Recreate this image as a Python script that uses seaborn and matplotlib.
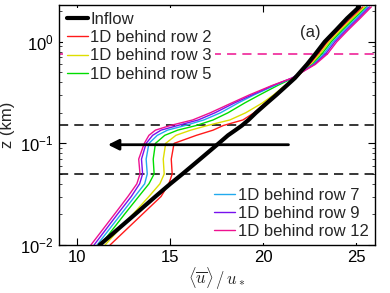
import numpy as np
import pandas as pd
import matplotlib
matplotlib.use('Agg')
import matplotlib.pyplot as plt
import seaborn as sns

# heights (km) shared by all profiles
z_km = [0.01, 0.02, 0.03, 0.04, 0.05, 0.07, 0.1, 0.12, 0.135, 0.15, 0.17,
        0.2, 0.25, 0.3, 0.37, 0.44, 0.6, 0.76, 1.0, 1.3, 1.7, 2.2]

inflow = [11.2, 13.1, 14.2, 15.0, 15.65, 16.6, 17.6, 18.1, 18.5, 18.85, 19.2,
          19.6, 20.2, 20.7, 21.25, 21.7, 22.35, 22.8, 23.3, 23.9, 24.5, 25.15]
row2 = [11.76, 13.49, 14.5, 14.92, 15.1, 15.05, 15.2, 16.4, 17.3, 17.85, 18.9,
        19.5, 20.1, 20.6, 21.2, 21.75, 22.5, 22.95, 23.45, 24.05, 24.7, 25.35]
row3 = [11.49, 12.98, 13.85, 14.44, 14.67, 14.62, 14.75, 15.3, 16.1, 17.0, 18.2,
        19.05, 19.95, 20.55, 21.15, 21.7, 22.6, 23.05, 23.55, 24.15, 24.8, 25.45]
row5 = [11.25, 12.53, 13.3, 13.85, 14.13, 14.08, 14.2, 14.7, 15.4, 16.4, 17.3,
        18.1, 19.0, 19.8, 20.75, 21.6, 22.65, 23.15, 23.65, 24.25, 24.9, 25.55]
row7 = [11.06, 12.34, 13.09, 13.62, 13.76, 13.7, 13.85, 14.3, 14.85, 15.8, 16.8,
        17.7, 18.65, 19.5, 20.6, 21.55, 22.7, 23.25, 23.75, 24.35, 25.0, 25.6]
row9 = [10.9, 12.15, 12.9, 13.35, 13.51, 13.45, 13.7, 14.05, 14.5, 15.4, 16.5,
        17.4, 18.45, 19.4, 20.5, 21.55, 22.75, 23.35, 23.85, 24.45, 25.1, 25.7]
row12 = [10.73, 11.99, 12.72, 13.2, 13.37, 13.3, 13.6, 13.85, 14.2, 15.0, 16.2,
         17.15, 18.3, 19.25, 20.45, 21.55, 22.8, 23.45, 23.95, 24.55, 25.2, 25.8]

labels = ['Inflow', '1D behind row 2', '1D behind row 3', '1D behind row 5',
          '1D behind row 7', '1D behind row 9', '1D behind row 12']
series = [inflow, row2, row3, row5, row7, row9, row12]
colors = ['black', '#ff1a1a', '#dede00', '#00dd00', '#22aaee', '#7711ee', '#ee1190']

dash_z = [0.15, 0.05]
hub_line_z = 0.76

sns.set_style('ticks')
plt.rcParams['font.family'] = ['Liberation Sans', 'DejaVu Sans']
plt.rcParams['mathtext.fontset'] = 'cm'
plt.rcParams['xtick.direction'] = 'in'
plt.rcParams['ytick.direction'] = 'in'
plt.rcParams['xtick.top'] = True
plt.rcParams['ytick.right'] = True

fig = plt.figure(figsize=(3.9, 2.93), dpi=100)
ax = fig.add_axes([0.1505, 0.1638, 0.811, 0.8192])

df = pd.DataFrame({
    'u': np.concatenate(series),
    'z': np.tile(z_km, len(series)),
    'profile': np.repeat(labels, len(z_km)),
})

# colored profiles first, inflow on top
for lab, col in zip(labels[1:], colors[1:]):
    sns.lineplot(data=df[df.profile == lab], x='u', y='z', sort=False, estimator=None,
                 color=col, lw=1.0, label=lab, ax=ax)
sns.lineplot(data=df[df.profile == 'Inflow'], x='u', y='z', sort=False, estimator=None,
             color='black', lw=3.0, label='Inflow', ax=ax, zorder=3)

for zz in dash_z:
    ax.axhline(zz, color='black', lw=1.1, ls=(0, (6, 4)), zorder=1)
ax.axhline(hub_line_z, color='#ee1190', lw=1.1, ls=(0, (6, 4)), zorder=1)

ax.annotate('', xy=(11.5, 0.097), xytext=(21.5, 0.097),
            arrowprops=dict(arrowstyle='-|>', lw=2, color='black', mutation_scale=16))

ax.text(22.5, 1.24, '(a)', fontsize=12, ha='center', va='center')

ax.set_yscale('log')
ax.set_xlim(9, 26)
ax.set_ylim(0.01, 2.3)
ax.set_xticks([10, 15, 20, 25])
ax.tick_params(which='major', length=5, width=0.8, labelsize=12, colors='black')
ax.tick_params(which='minor', length=2.5, width=0.6)
for s in ax.spines.values():
    s.set_linewidth(1.0)
    s.set_color('black')

ax.set_xlabel(r'$\langle \overline{u} \rangle \, / \, u_*$', fontsize=12, labelpad=1)
ax.set_ylabel('z (km)', fontsize=12, labelpad=4)

handles, labs = ax.get_legend_handles_labels()
hmap = dict(zip(labs, handles))
common = dict(fontsize=12, frameon=True, facecolor='white', edgecolor='none', framealpha=1,
              handlelength=1.25, handletextpad=0.15, labelspacing=0.2, borderpad=0.2,
              borderaxespad=0)
leg1 = ax.legend([hmap[l] for l in labels[:4]], labels[:4], loc='upper left',
                 bbox_to_anchor=(0.015, 0.986), **common)
for h in leg1.legend_handles[1:]:
    h.set_linewidth(1.0)
leg1.legend_handles[0].set_linewidth(3.0)
ax.add_artist(leg1)
leg2 = ax.legend([hmap[l] for l in labels[4:]], labels[4:], loc='lower right',
                 bbox_to_anchor=(0.99, 0.01), **common)

fig.savefig('out.png', dpi=100)
